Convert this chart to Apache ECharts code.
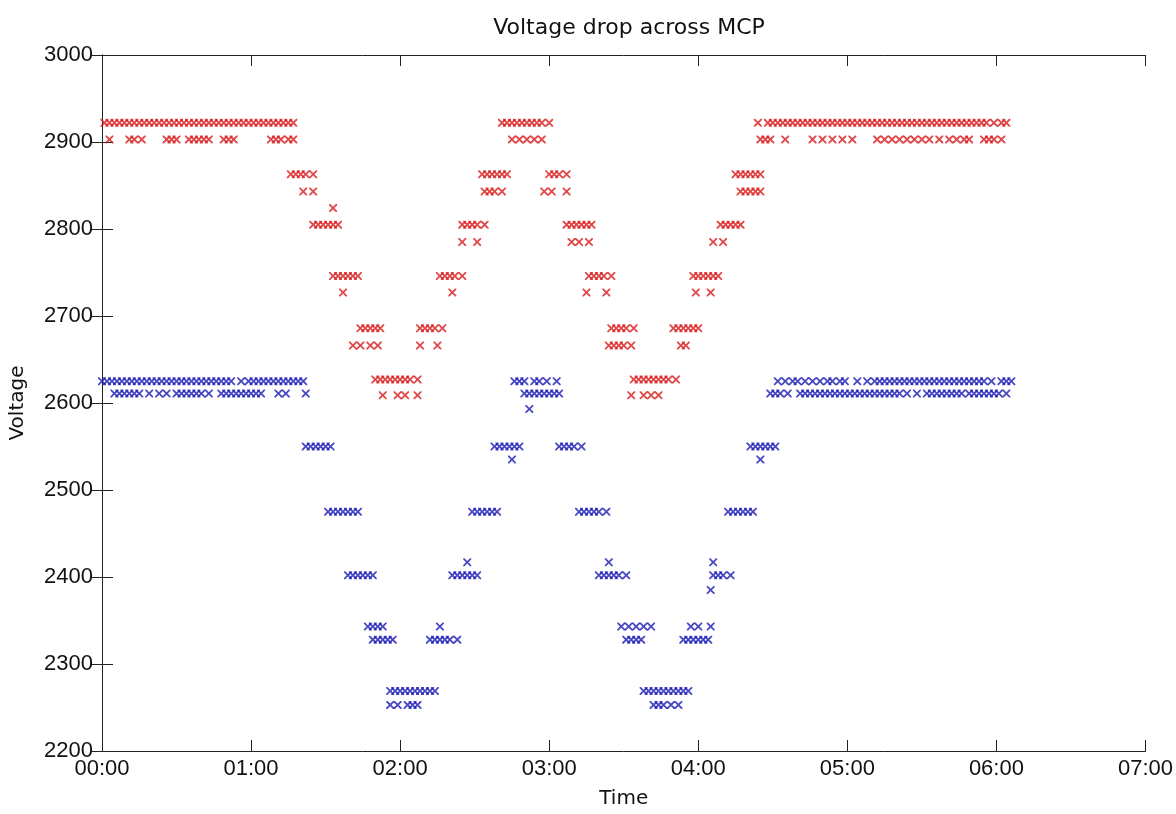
<!DOCTYPE html>
<html>
<head>
<meta charset="utf-8">
<title>Voltage drop across MCP</title>
<script src="https://cdn.jsdelivr.net/npm/echarts@6.0.0/dist/echarts.min.js"></script>
<style>
html,body{margin:0;padding:0;background:#fff;}
#main{width:1176px;height:814px;}
</style>
</head>
<body>
<div id="main"></div>
<script>
// time in minutes after 00:00, one list of times per voltage level
var redLevels=[2922,2903,2863,2843,2824,2805,2785,2746,2727,2686,2666,2627,2609];
var redTimes=[
	[1,3,5,7,9,11,13,15,17,19,21,23,25,27,29,31,33,35,37,39,41,43,45,47,49,51,53,55,57,59,61,63,65,67,69,71,73,75,77,
	 161,163,165,167,169,171,173,175,177,180,
	 264,268,270,272,274,276,278,280,282,284,286,288,290,292,294,296,298,300,302,304,306,308,310,312,314,316,318,320,
	 322,324,326,328,330,332,334,336,338,340,342,344,346,348,350,352,354,356,359,362,364],
	[3,11,13,16,26,28,30,35,37,39,41,43,49,51,53,68,70,72,75,77,
	 165,168,171,174,177,
	 265,267,269,275,286,290,294,298,302,312,315,318,321,324,327,330,333,337,341,344,347,349,355,357,359,362],
	[76,78,80,82,85,153,155,157,159,161,163,180,182,184,187,255,257,259,261,263,265],
	[81,85,154,156,158,161,178,181,187,257,259,261,263,265],
	[93],
	[85,87,89,91,93,95,145,147,149,151,154,187,189,191,193,195,197,249,251,253,255,257],
	[145,151,189,192,196,246,250],
	[93,95,97,99,101,103,136,138,140,142,145,196,198,200,202,205,238,240,242,244,246,248],
	[97,141,195,203,239,245],
	[104,106,108,110,112,128,130,132,134,137,205,207,209,211,214,230,232,234,236,238,240],
	[101,104,108,111,128,135,204,206,208,210,213,233,235],
	[110,112,114,116,118,120,122,124,127,214,216,218,220,222,224,226,228,231],
	[113,119,122,127,213,218,221,224]
];

var blueLevels=[2625,2611,2593,2550,2535,2475,2417,2402,2385,2343,2328,2269,2253];
var blueTimes=[
	[0,2,4,6,8,10,12,14,16,18,20,22,24,26,28,30,32,34,36,38,40,42,44,46,48,50,52,56,59,61,63,65,67,69,71,73,75,77,79,81,
	 166,168,170,174,176,179,183,
	 272,275,278,280,283,286,289,292,294,297,299,304,308,311,313,315,317,319,321,323,325,327,329,331,333,335,337,339,
	 341,343,345,347,349,351,353,355,358,362,364,366],
	[5,7,9,11,13,15,19,23,26,30,32,34,36,38,40,43,48,50,52,54,56,58,60,62,64,71,74,82,
	 170,172,174,176,178,180,182,184,
	 269,271,273,276,281,283,285,287,289,291,293,295,297,299,301,303,305,307,309,311,313,315,317,319,321,324,328,
	 332,334,336,338,340,342,344,346,349,351,353,355,357,359,361,364],
	[172],
	[82,84,86,88,90,92,158,160,162,164,166,168,184,186,188,190,193,261,263,265,267,269,271],
	[165,265],
	[91,93,95,97,99,101,103,149,151,153,155,157,159,192,194,196,198,200,203,252,254,256,258,260,262],
	[147,204,246],
	[99,101,103,105,107,109,141,143,145,147,149,151,200,202,204,206,208,211,246,248,250,253],
	[245],
	[107,109,111,113,136,209,212,215,218,221,237,240,245],
	[109,111,113,115,117,132,134,136,138,140,143,211,213,215,217,234,236,238,240,242,244],
	[116,118,120,122,124,126,128,130,132,134,218,220,222,224,226,228,230,232,234,236],
	[116,119,123,125,127,222,224,226,229,232]
];

var xTicks=['00:00','01:00','02:00','03:00','04:00','05:00','06:00','07:00'];

var crossMark='path://M0,0L1.6,0L5,3.4L8.4,0L10,0L10,1.6L6.6,5L10,8.4L10,10L8.4,10L5,6.6L1.6,10L0,10L0,8.4L3.4,5L0,1.6Z';

function toPoints(levels,times){
	var d=[];
	for(var i=0;i<levels.length;i++){
		for(var j=0;j<times[i].length;j++){
			d.push([times[i][j],levels[i]]);
		}
	}
	return d;
}

var axisLine={show:true,lineStyle:{color:'#222',width:1}};
var axisTick={show:true,inside:true,length:11,lineStyle:{color:'#222',width:1}};

var eChart=echarts.init(document.getElementById('main'),null,{renderer:'canvas'});
var option={
	backgroundColor:'#fff',
	animation:false,
	title:{
		text:'Voltage drop across MCP',
		left:624,
		textAlign:'center',
		top:12,
		textStyle:{fontFamily:'DejaVu Sans',fontSize:22,fontWeight:'normal',color:'#111'}
	},
	grid:{left:102,right:30,top:55,bottom:59},
	xAxis:[
		{
			type:'value',
			min:0,max:420,interval:60,
			name:'Time',
			nameLocation:'middle',
			nameGap:38,
			nameTextStyle:{fontFamily:'DejaVu Sans',fontSize:20,color:'#111'},
			axisLine:axisLine,
			axisTick:axisTick,
			splitLine:{show:false},
			axisLabel:{
				margin:7,
				fontFamily:'Liberation Sans',fontSize:22,color:'#111',
				formatter:function(v){return xTicks[Math.round(v/60)];}
			}
		},
		{
			type:'value',
			position:'top',
			min:0,max:420,interval:60,
			axisLine:axisLine,
			axisTick:axisTick,
			splitLine:{show:false},
			axisLabel:{show:false}
		}
	],
	yAxis:[
		{
			type:'value',
			min:2200,max:3000,interval:100,
			name:'Voltage',
			nameLocation:'middle',
			nameGap:74,
			nameRotate:90,
			nameTextStyle:{fontFamily:'DejaVu Sans',fontSize:20,color:'#111'},
			axisLine:axisLine,
			axisTick:axisTick,
			splitLine:{show:false},
			axisLabel:{
				margin:9,
				fontFamily:'Liberation Sans',fontSize:22,color:'#111',
				formatter:function(v){return String(v);}
			}
		},
		{
			type:'value',
			position:'right',
			min:2200,max:3000,interval:100,
			axisLine:axisLine,
			axisTick:axisTick,
			splitLine:{show:false},
			axisLabel:{show:false}
		}
	],
	series:[
		{
			name:'red',
			type:'scatter',
			symbol:crossMark,
			symbolSize:8,
			itemStyle:{color:'#d81c1c'},
			data:toPoints(redLevels,redTimes)
		},
		{
			name:'blue',
			type:'scatter',
			symbol:crossMark,
			symbolSize:8,
			itemStyle:{color:'#1c1cb4'},
			data:toPoints(blueLevels,blueTimes)
		}
	]
};
eChart.setOption(option);
</script>
</body>
</html>
